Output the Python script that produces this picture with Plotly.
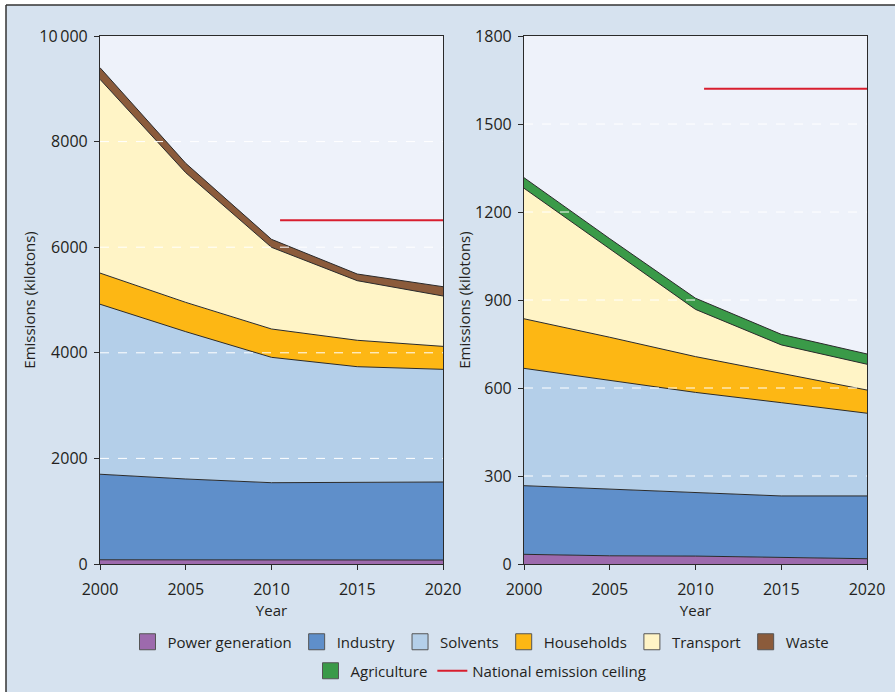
import plotly.graph_objects as go

years = [2000, 2005, 2010, 2015, 2020]

# Left panel (kilotons) - per sector values
left_power = [80, 78, 78, 76, 75]
left_industry = [1620, 1532, 1462, 1464, 1478]
left_solvents = [3220, 2790, 2374, 2197, 2134]
left_households = [590, 555, 537, 500, 435]
left_transport = [3670, 2456, 1547, 1129, 954]
left_waste = [220, 178, 151, 126, 176]
left_ceiling_years = [2010.5, 2020]
left_ceiling = [6510, 6510]

# Right panel (kilotons) - per sector values
right_power = [33, 28, 27, 22, 18]
right_industry = [234, 228, 217, 210, 214]
right_solvents = [400, 371, 341, 318, 282]
right_households = [169, 146, 122, 100, 79]
right_transport = [445, 303, 161, 97, 88]
right_agriculture = [36, 33, 38, 36, 35]
right_ceiling_years = [2010.5, 2020]
right_ceiling = [1620, 1620]

left_yticks = [0, 2000, 4000, 6000, 8000, 10000]
left_yticklabels = ["0", "2000", "4000", "6000", "8000", "10\u2009000"]
right_yticks = [0, 300, 600, 900, 1200, 1500, 1800]
xticks = [2000, 2005, 2010, 2015, 2020]

colors = {
    "Power generation": "#9d6aad",
    "Industry": "#5f8fca",
    "Solvents": "#b4cfe9",
    "Households": "#fdb714",
    "Transport": "#fff4c6",
    "Waste": "#8b5b3b",
    "Agriculture": "#3a9a48",
}
ceiling_color = "#d81e2e"
edge = "#2a2a2a"
font_family = "Open Sans, Noto Sans, sans-serif"
text_color = "#231f20"

fig = go.Figure()

left_series = [
    ("Power generation", left_power),
    ("Industry", left_industry),
    ("Solvents", left_solvents),
    ("Households", left_households),
    ("Transport", left_transport),
    ("Waste", left_waste),
]
right_series = [
    ("Power generation", right_power),
    ("Industry", right_industry),
    ("Solvents", right_solvents),
    ("Households", right_households),
    ("Transport", right_transport),
    ("Agriculture", right_agriculture),
]

for name, vals in left_series:
    fig.add_trace(go.Scatter(
        x=years, y=vals, name=name, stackgroup="left", mode="lines",
        line=dict(color=edge, width=1), fillcolor=colors[name],
        showlegend=False, xaxis="x", yaxis="y", hoverinfo="x+y+name"))
fig.add_trace(go.Scatter(
    x=left_ceiling_years, y=left_ceiling, mode="lines", name="National emission ceiling",
    line=dict(color=ceiling_color, width=2), showlegend=False, xaxis="x", yaxis="y"))

for name, vals in right_series:
    fig.add_trace(go.Scatter(
        x=years, y=vals, name=name, stackgroup="right", mode="lines",
        line=dict(color=edge, width=1), fillcolor=colors[name],
        showlegend=False, xaxis="x2", yaxis="y2", hoverinfo="x+y+name"))
fig.add_trace(go.Scatter(
    x=right_ceiling_years, y=right_ceiling, mode="lines", name="National emission ceiling",
    line=dict(color=ceiling_color, width=2), showlegend=False, xaxis="x2", yaxis="y2"))

# Legend entries
row1 = ["Power generation", "Industry", "Solvents", "Households", "Transport", "Waste"]
for name in row1:
    fig.add_trace(go.Scatter(
        x=[None], y=[None], mode="markers", name=name, legend="legend",
        marker=dict(symbol="square", size=16, color=colors[name],
                    line=dict(color="#555555", width=1)),
        xaxis="x", yaxis="y"))
fig.add_trace(go.Scatter(
    x=[None], y=[None], mode="markers", name="Agriculture", legend="legend2",
    marker=dict(symbol="square", size=16, color=colors["Agriculture"],
                line=dict(color="#555555", width=1)),
    xaxis="x", yaxis="y"))
fig.add_trace(go.Scatter(
    x=[None], y=[None], mode="lines", name="National emission ceiling", legend="legend2",
    line=dict(color=ceiling_color, width=2), xaxis="x", yaxis="y"))

W, H = 895, 692
y_top = 1 - 36 / H
y_bot = 1 - 564 / H

axis_common = dict(
    showline=True, linecolor=edge, linewidth=1.2, mirror=True,
    ticks="outside", ticklen=5, tickcolor=edge, tickwidth=1,
    tickfont=dict(size=16, color=text_color, family=font_family),
    zeroline=False, showgrid=False,
)
x_common = dict(axis_common, ticklabelstandoff=6,
                title=dict(text="Year", font=dict(size=15), standoff=0))
y_common = dict(axis_common, ticklabelstandoff=3,
                title=dict(text="Emissions (kilotons)", font=dict(size=15), standoff=0))

# Dashed white gridlines drawn above the areas, at the tick values
grid_shapes = []
for v in left_yticks[1:-1]:
    grid_shapes.append(dict(type="line", xref="x domain", yref="y", x0=0, x1=1, y0=v, y1=v,
                            line=dict(color="white", width=1, dash="dash"), layer="above"))
for v in right_yticks[1:-1]:
    grid_shapes.append(dict(type="line", xref="x2 domain", yref="y2", x0=0, x1=1, y0=v, y1=v,
                            line=dict(color="white", width=1, dash="dash"), layer="above"))

frame_shapes = [
    dict(type="rect", xref="paper", yref="paper", x0=0, x1=6 / W, y0=0, y1=1,
         fillcolor="white", line=dict(width=0), layer="below"),
    dict(type="rect", xref="paper", yref="paper", x0=0, x1=1, y0=1 - 5 / H, y1=1,
         fillcolor="white", line=dict(width=0), layer="below"),
    dict(type="line", xref="paper", yref="paper", x0=6 / W, x1=1, y0=1 - 5 / H, y1=1 - 5 / H,
         line=dict(color="#333333", width=1.5), layer="below"),
    dict(type="line", xref="paper", yref="paper", x0=6 / W, x1=6 / W, y0=0, y1=1 - 5 / H,
         line=dict(color="#333333", width=1.5), layer="below"),
]

fig.update_layout(
    width=W, height=H,
    margin=dict(l=0, r=0, t=0, b=0, pad=0, autoexpand=False),
    paper_bgcolor="#d6e2ef",
    plot_bgcolor="#eef2fa",
    font=dict(family=font_family, color=text_color),
    xaxis=dict(domain=[100 / W, 443 / W], range=[2000, 2020], tickvals=xticks,
               anchor="y", **x_common),
    yaxis=dict(domain=[y_bot, y_top], range=[0, 10000], tickvals=left_yticks,
               ticktext=left_yticklabels, anchor="x", **y_common),
    xaxis2=dict(domain=[524 / W, 867 / W], range=[2000, 2020], tickvals=xticks,
                anchor="y2", **x_common),
    yaxis2=dict(domain=[y_bot, y_top], range=[0, 1800], tickvals=right_yticks,
                anchor="x2", **y_common),
    legend=dict(orientation="h", x=481 / W, xanchor="center", y=1 - 642 / H,
                yanchor="middle", bgcolor="rgba(0,0,0,0)", traceorder="normal",
                font=dict(size=15, color=text_color, family=font_family),
                itemwidth=30, tracegroupgap=0),
    legend2=dict(orientation="h", x=481 / W, xanchor="center", y=1 - 671 / H,
                 yanchor="middle", bgcolor="rgba(0,0,0,0)", traceorder="normal",
                 font=dict(size=15, color=text_color, family=font_family),
                 itemwidth=30),
    shapes=frame_shapes + grid_shapes,
)

fig.write_html(
    "out.html",
    config={"displayModeBar": False},
    post_script="document.body.style.margin='0';document.body.style.overflow='hidden';",
)
